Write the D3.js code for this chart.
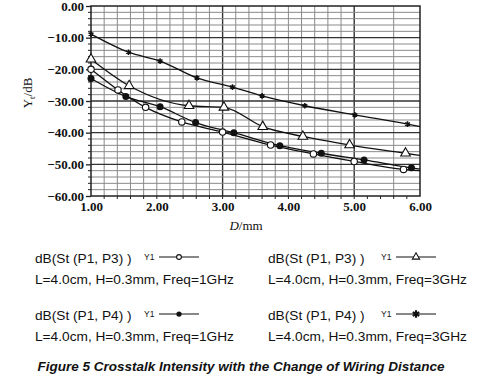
<!DOCTYPE html>
<html><head><meta charset="utf-8">
<script src="https://cdn.jsdelivr.net/npm/d3@7"></script>
<style>body{margin:0;background:#fff}svg{display:block}</style>
</head><body>
<svg id="c" width="482" height="380"></svg>
<script>
// ---- data ----
const yTicks = [0, -10, -20, -30, -40, -50, -60];
const xTicks = [1, 2, 3, 4, 5, 6];
const s1x = [1.0, 1.41, 1.83, 2.38, 3.0, 3.73, 4.38, 5.0, 5.75, 6.0];
const s1y = [-20.0, -26.5, -32.0, -36.6, -39.8, -43.9, -46.7, -49.1, -51.6, -52.0];
const s2x = [1.0, 1.53, 2.05, 2.59, 3.17, 3.87, 4.5, 5.15, 5.87, 6.0];
const s2y = [-22.9, -28.6, -31.8, -36.8, -40.0, -44.1, -46.5, -48.6, -51.1, -51.5];
const s3x = [1.0, 1.58, 2.49, 3.02, 3.61, 4.22, 4.93, 5.78, 6.0];
const s3y = [-16.8, -25.2, -31.5, -32.0, -38.1, -41.2, -43.9, -46.5, -47.2];
const s4x = [1.0, 1.57, 2.05, 2.61, 3.15, 3.6, 4.25, 5.01, 5.81, 6.0];
const s4y = [-8.9, -14.6, -17.4, -22.7, -25.6, -28.4, -31.5, -34.4, -37.3, -38.1];
const legendNames = ["dB(St (P1, P3) )", "dB(St (P1, P3) )", "dB(St (P1, P4) )", "dB(St (P1, P4) )"];
const legendDesc = ["L=4.0cm, H=0.3mm, Freq=1GHz", "L=4.0cm, H=0.3mm, Freq=3GHz", "L=4.0cm, H=0.3mm, Freq=1GHz", "L=4.0cm, H=0.3mm, Freq=3GHz"];
const legendMarkers = ["openCircle", "triangle", "filledCircle", "asterisk"];
const caption = "Figure 5 Crosstalk Intensity with the Change of Wiring Distance";

const svg = d3.select("#c");
const x = d3.scaleLinear().domain([1, 6]).range([91, 420]);
const y = d3.scaleLinear().domain([-60, 0]).range([196, 6]);

// grid
const g = svg.append("g");
const isMajorX = d => Math.abs(d - 3) < 0.01 || Math.abs(d - 5) < 0.01;
const vMinor = d3.range(1.2, 5.01, 0.2).concat([5.6]);
g.selectAll("line.vm").data(vMinor).join("line")
  .attr("x1", d => x(d)).attr("x2", d => x(d)).attr("y1", y(0)).attr("y2", y(-60))
  .attr("stroke", d => isMajorX(d) ? "#333" : "#8a8a8a")
  .attr("stroke-width", d => isMajorX(d) ? 1.4 : 1);
const hMinor = d3.range(-58, -1, 2);
g.selectAll("line.hm").data(hMinor).join("line")
  .attr("x1", x(1)).attr("x2", x(6)).attr("y1", d => y(d)).attr("y2", d => y(d))
  .attr("stroke", d => d % 10 === 0 ? "#333" : "#8a8a8a")
  .attr("stroke-width", d => d % 10 === 0 ? 1.4 : 1);
// frame
svg.append("rect").attr("x", x(1)).attr("y", y(0)).attr("width", x(6) - x(1)).attr("height", y(-60) - y(0))
  .attr("fill", "none").attr("stroke", "#222").attr("stroke-width", 1.5);

// axes
const yAxis = d3.axisLeft(y).tickValues(yTicks).tickSize(5).tickPadding(2)
  .tickFormat(d => d === 0 ? "0.00" : "\u2212" + Math.abs(d).toFixed(2));
const ya = svg.append("g").attr("transform", `translate(${x(1)},0)`).call(yAxis);
ya.select(".domain").remove();
ya.selectAll("text").attr("font-family", "Liberation Serif").attr("font-size", 13).attr("font-weight", "bold").attr("fill", "#111");
ya.selectAll("line").attr("stroke", "#222").attr("stroke-width", 1.3);
const yMinorT = d3.range(-58, -1, 2).filter(d => d % 10 !== 0);
svg.append("g").selectAll("line").data(yMinorT).join("line")
  .attr("x1", x(1) - 3).attr("x2", x(1)).attr("y1", d => y(d)).attr("y2", d => y(d)).attr("stroke", "#222");

const xAxis = d3.axisBottom(x).tickValues(xTicks).tickSize(0).tickPadding(6).tickFormat(d3.format(".2f"));
const xa = svg.append("g").attr("transform", `translate(0,${y(-60)})`).call(xAxis);
xa.select(".domain").remove();
xa.selectAll("text").attr("font-family", "Liberation Serif").attr("font-size", 13).attr("font-weight", "bold").attr("fill", "#111");
const xMinorT = d3.range(1.2, 5.99, 0.2);
svg.append("g").selectAll("line").data(xMinorT).join("line")
  .attr("x1", d => x(d)).attr("x2", d => x(d)).attr("y1", y(-60)).attr("y2", y(-60) + 3).attr("stroke", "#222");

// axis titles
svg.append("text").attr("transform", `translate(32,93) rotate(-90)`).attr("text-anchor", "middle")
  .attr("font-family", "Liberation Serif").attr("font-size", 13).attr("fill", "#111")
  .html('Y<tspan font-size="9" dy="3">t</tspan><tspan dy="-3">/dB</tspan>');
svg.append("text").attr("x", 246).attr("y", 230).attr("text-anchor", "middle")
  .attr("font-family", "Liberation Serif").attr("font-size", 13).attr("fill", "#111")
  .html('<tspan font-style="italic">D</tspan>/mm');

// series
const series = [
  {xs: s1x, ys: s1y, m: "openCircle"},
  {xs: s2x, ys: s2y, m: "filledCircle"},
  {xs: s3x, ys: s3y, m: "triangle"},
  {xs: s4x, ys: s4y, m: "asterisk"}
];
const line = d3.line().x(d => x(d[0])).y(d => y(d[1])).curve(d3.curveMonotoneX);
function drawMarker(sel, type, cx, cy, k) {
  k = k || 1;
  if (type === "openCircle") {
    sel.append("circle").attr("cx", cx).attr("cy", cy).attr("r", 3.2 * k).attr("fill", "#fff").attr("stroke", "#111").attr("stroke-width", 1.1);
  } else if (type === "filledCircle") {
    sel.append("circle").attr("cx", cx).attr("cy", cy).attr("r", 3.5 * k).attr("fill", "#111");
  } else if (type === "triangle") {
    sel.append("path").attr("d", d3.symbol(d3.symbolTriangle, 40 * k * k)()).attr("transform", `translate(${cx},${cy})`)
      .attr("fill", "#fff").attr("stroke", "#111").attr("stroke-width", 1.1);
  } else {
    sel.append("path").attr("d", d3.symbol(d3.symbolAsterisk, 22 / (k * k))()).attr("transform", `translate(${cx},${cy})`)
      .attr("fill", "none").attr("stroke", "#111").attr("stroke-width", k < 1 ? 2.2 : 1.5);
  }
}
const sg = svg.append("g");
series.forEach(s => {
  const pts = s.xs.map((v, i) => [v, s.ys[i]]);
  sg.append("path").datum(pts).attr("d", line).attr("fill", "none").attr("stroke", "#111").attr("stroke-width", 1.3);
});
series.forEach(s => {
  s.xs.slice(0, -1).forEach((v, i) => drawMarker(sg, s.m, x(v), y(s.ys[i])));
});

// legend
const lg = svg.append("g").attr("font-family", "Liberation Sans, Arial").attr("fill", "#111");
const lx = [35, 268], lyy = [263, 320];
legendNames.forEach((name, i) => {
  const cx = lx[i % 2], cy = lyy[Math.floor(i / 2)];
  lg.append("text").attr("x", cx).attr("y", cy).attr("font-size", 13.7).text(name);
  lg.append("text").attr("x", cx).attr("y", cy + 21).attr("font-size", 13.7).text(legendDesc[i]);
  const yx = cx + (i % 2 ? 113 : 109);
  lg.append("text").attr("x", yx).attr("y", cy - 3).attr("font-size", 8.5).text("Y1");
  lg.append("line").attr("x1", yx + 15).attr("x2", yx + 55).attr("y1", cy - 6).attr("y2", cy - 6).attr("stroke", "#111").attr("stroke-width", 1);
  drawMarker(lg, legendMarkers[i], yx + 35, cy - 6, 0.75);
});
svg.append("text").attr("x", 241).attr("y", 371).attr("text-anchor", "middle")
  .attr("font-family", "Liberation Sans, Arial").attr("font-weight", "bold").attr("font-style", "italic")
  .attr("font-size", 13.5).attr("fill", "#111").text(caption);
</script>
</body></html>
